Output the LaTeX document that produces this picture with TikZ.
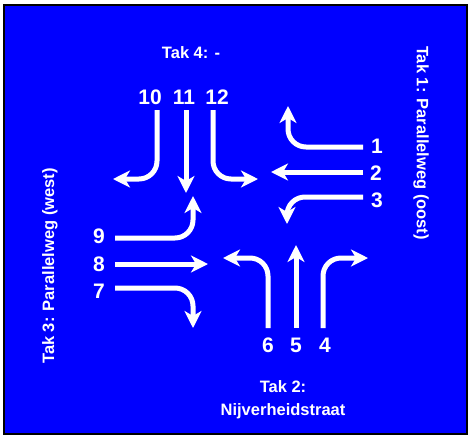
\documentclass[tikz,border=0pt]{standalone}
\usepackage{fontspec}
\setmainfont{Liberation Sans}
\usetikzlibrary{arrows.meta}

\begin{document}
\begin{tikzpicture}[x=1pt,y=-1pt,inner sep=0.4mm,
  pijl/.style={draw=white,line width=5pt,rounded corners=18pt,
    -{Stealth[length=17pt,width=17pt,inset=5pt]}},
  nr/.style={text=white,anchor=base,font=\fontsize{21}{25}\selectfont\bfseries},
  tak/.style={text=white,font=\fontsize{16.5}{20}\selectfont\bfseries}]
\useasboundingbox (0,0) rectangle (470,437);
\filldraw [draw=black,fill=blue,line width=2pt] (4,5) rectangle (467,434);

\node [tak,anchor=base] (T4) at (191,58) {Tak 4: -};
\node [tak,rotate=-90] (T1) at (421,143) {Tak 1: Parallelweg (oost)};
\node [tak,rotate=90] (T3) at (50,266) {Tak 3: Parallelweg (west)};
\node [tak,anchor=base] (T2) at (283,392) {Tak 2:};
\node [tak,anchor=base] (T2b) at (283,415) {Nijverheidstraat};

\node [nr] (n10) at (150,104) {10};
\node [nr] (n11) at (184,104) {11};
\node [nr] (n12) at (217,104) {12};
\node [nr] (n9) at (99,243) {9};
\node [nr] (n8) at (99,271) {8};
\node [nr] (n7) at (99,298) {7};
\node [nr] (n1) at (377,153) {1};
\node [nr] (n2) at (376,180) {2};
\node [nr] (n3) at (377,207) {3};
\node [nr] (n6) at (268,352) {6};
\node [nr] (n5) at (296,352) {5};
\node [nr] (n4) at (325,352) {4};

% tak 4
\coordinate (A10) at (157,110);
\coordinate (B10) at (113,179);
\coordinate (A11) at (186,110);
\coordinate (B11) at (186,193);
\coordinate (A12) at (213,110);
\coordinate (B12) at (258,179);
\draw [pijl] (A10) |- (B10);
\draw [pijl] (A11) -- (B11);
\draw [pijl] (A12) |- (B12);

% tak 3
\coordinate (A9) at (115,238);
\coordinate (B9) at (193,196);
\coordinate (A8) at (115,264);
\coordinate (B8) at (208,264);
\coordinate (A7) at (115,288);
\coordinate (B7) at (193,328);
\draw [pijl] (A9) -| (B9);
\draw [pijl] (A8) -- (B8);
\draw [pijl] (A7) -| (B7);

% tak 1
\coordinate (A1) at (363,147);
\coordinate (B1) at (288,106);
\coordinate (A2) at (363,172);
\coordinate (B2) at (271,172);
\coordinate (A3) at (363,197);
\coordinate (B3) at (287,224);
\draw [pijl] (A1) -| (B1);
\draw [pijl] (A2) -- (B2);
\draw [pijl] (A3) -| (B3);

% tak 2
\coordinate (A6) at (268,328);
\coordinate (B6) at (223,258);
\coordinate (A5) at (296,328);
\coordinate (B5) at (296,245);
\coordinate (A4) at (323,328);
\coordinate (B4) at (368,258);
\draw [pijl] (A6) |- (B6);
\draw [pijl] (A5) -- (B5);
\draw [pijl] (A4) |- (B4);

\end{tikzpicture}
\end{document}
